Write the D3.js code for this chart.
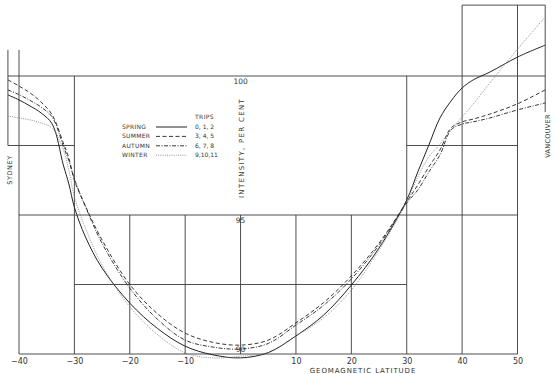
<!DOCTYPE html>
<html>
<head>
<meta charset="utf-8">
<script src="https://cdn.jsdelivr.net/npm/d3@7"></script>
<style>
  body { margin: 0; background: #fff; }
  text { font-family: "DejaVu Sans", sans-serif; fill: #333; }
</style>
</head>
<body>
<div id="chart"></div>
<script>
// geomagnetic latitude (degrees) where the curves were read
var lats = [-42, -40, -38, -36, -34, -32, -31, -30, -28, -25, -20, -15, -10, -5, 0, 5, 10, 15, 20, 25, 30, 32, 34, 36, 38, 40, 42, 45, 50, 55];

// intensity, per cent, one array per season
var spring = [99.32, 99.14, 98.92, 98.67, 98.27, 96.80, 96.12, 95.28, 94.21, 93.09, 91.83, 90.92, 90.28, 89.97, 89.86, 90.05, 90.65, 91.40, 92.48, 93.81, 95.54, 96.55, 97.52, 98.49, 99.10, 99.57, 99.86, 100.14, 100.68, 101.11];
var summer = [99.86, 99.64, 99.39, 99.06, 98.60, 97.59, 97.05, 96.25, 95.32, 94.10, 92.50, 91.45, 90.75, 90.42, 90.32, 90.50, 91.12, 91.85, 92.81, 93.99, 95.47, 96.08, 96.73, 97.34, 98.13, 98.35, 98.45, 98.63, 99.00, 99.50];
var autumn = [99.50, 99.33, 99.12, 98.88, 98.52, 97.48, 96.95, 96.30, 95.30, 93.98, 92.37, 91.25, 90.50, 90.25, 90.18, 90.38, 91.04, 91.75, 92.70, 93.92, 95.43, 95.90, 96.55, 97.16, 98.06, 98.27, 98.35, 98.49, 98.78, 99.03];
var winter = [98.56, 98.49, 98.42, 98.31, 98.13, 97.34, 96.62, 95.65, 94.53, 93.20, 91.70, 90.70, 90.04, 89.86, 89.92, 90.06, 90.65, 91.30, 92.30, 93.74, 95.47, 96.37, 97.09, 97.55, 98.06, 98.53, 98.99, 99.75, 100.97, 102.12];

var seasons = ["SPRING", "SUMMER", "AUTUMN", "WINTER"];
var trips = ["0, 1, 2", "3, 4, 5", "6, 7, 8", "9,10,11"];

var xTicks = [-40, -30, -20, -10, 10, 20, 30, 40, 50];
var yTicks = [100, 95, 90];

// frame rules in data units: [value, latFrom, latTo] and [lat, valueFrom, valueTo]
var hRules = [[102.55, 40, 55], [100, -42, 55], [97.5, -42, -30], [97.5, 30, 50], [95, -40, 50], [92.5, -30, 30], [90, -40, 50]];
var vRules = [[-42, 97.5, 100.94], [-40, 90, 100.94], [-30, 90, 100], [-20, 90, 95], [-10, 90, 95], [0, 90, 95], [10, 90, 95], [20, 90, 95], [30, 90, 100], [40, 90, 102.55], [50, 90, 102.55], [55, 98.7, 102.55]];

var width = 556, height = 374;

var svg = d3.select("#chart")
  .append("svg")
    .attr("width", width)
    .attr("height", height);

var x = d3.scaleLinear()
  .domain([-40, 50])
  .range([19, 517.5]);

var y = d3.scaleLinear()
  .domain([90, 100])
  .range([354, 76]);

// frame
svg.selectAll("hrule")
  .data(hRules)
  .enter()
  .append("line")
    .attr("x1", function(d) { return x(d[1]); })
    .attr("x2", function(d) { return x(d[2]); })
    .attr("y1", function(d) { return y(d[0]); })
    .attr("y2", function(d) { return y(d[0]); })
    .attr("stroke", "#3a3a3a")
    .attr("stroke-width", 0.9);

svg.selectAll("vrule")
  .data(vRules)
  .enter()
  .append("line")
    .attr("x1", function(d) { return x(d[0]); })
    .attr("x2", function(d) { return x(d[0]); })
    .attr("y1", function(d) { return y(d[1]); })
    .attr("y2", function(d) { return y(d[2]); })
    .attr("stroke", "#3a3a3a")
    .attr("stroke-width", 0.9);

// X axis labels
var xAxis = svg.append("g")
  .attr("transform", "translate(0," + y(90) + ")")
  .call(d3.axisBottom(x).tickValues(xTicks).tickSize(0).tickPadding(4));
xAxis.select(".domain").remove();
xAxis.selectAll("text")
  .style("font-size", "8px")
  .style("font-family", "DejaVu Sans, sans-serif")
  .attr("fill", "#333");

// Y labels sit on the 0 meridian
svg.selectAll("ylab")
  .data(yTicks)
  .enter()
  .append("text")
    .attr("x", x(0))
    .attr("y", function(d) { return y(d) + (d == 90 ? -2 : 8); })
    .attr("text-anchor", "middle")
    .style("font-size", "7.5px")
    .text(function(d) { return d; });

svg.append("text")
  .attr("transform", "translate(" + (x(0) + 3) + ",148)rotate(-90)")
  .attr("text-anchor", "middle")
  .style("font-size", "7px")
  .style("letter-spacing", "1.3px")
  .text("INTENSITY,   PER   CENT");

svg.append("text")
  .attr("x", 363)
  .attr("y", 373)
  .attr("text-anchor", "middle")
  .style("font-size", "7px")
  .style("letter-spacing", "0.9px")
  .text("GEOMAGNETIC   LATITUDE");

svg.append("text")
  .attr("transform", "translate(12,170)rotate(-90)")
  .attr("text-anchor", "middle")
  .style("font-size", "6.5px")
  .style("letter-spacing", "0.6px")
  .text("SYDNEY");

svg.append("text")
  .attr("transform", "translate(549.5,136)rotate(-90)")
  .attr("text-anchor", "middle")
  .style("font-size", "6.5px")
  .style("letter-spacing", "0.3px")
  .text("VANCOUVER");

// curves
var styles = [
  {dash: null, color: "#222", w: 1},
  {dash: "4,2.5", color: "#222", w: 0.9},
  {dash: "4,1.5,1,1.5", color: "#222", w: 0.9},
  {dash: "1,1.2", color: "#777", w: 0.8}
];
var seriesVals = [spring, summer, autumn, winter];

var line = d3.line()
  .x(function(d) { return x(d[0]); })
  .y(function(d) { return y(d[1]); })
  .curve(d3.curveCatmullRom.alpha(0.5));

seriesVals.forEach(function(vals, i) {
  svg.append("path")
    .datum(lats.map(function(l, j) { return [l, vals[j]]; }))
    .attr("d", line)
    .attr("fill", "none")
    .attr("stroke", styles[i].color)
    .attr("stroke-width", styles[i].w)
    .attr("stroke-dasharray", styles[i].dash);
});

// legend
var lg = svg.append("g").attr("transform", "translate(122,127)");
lg.append("text")
  .attr("x", 73)
  .attr("y", -8)
  .style("font-size", "6px")
  .style("letter-spacing", "0.4px")
  .text("TRIPS");
seasons.forEach(function(s, i) {
  var row = lg.append("g").attr("transform", "translate(0," + (i * 9.4) + ")");
  row.append("text")
    .attr("y", 2)
    .style("font-size", "6px")
    .style("letter-spacing", "0.3px")
    .text(s);
  row.append("line")
    .attr("x1", 34).attr("x2", 65)
    .attr("y1", 0).attr("y2", 0)
    .attr("stroke", styles[i].color)
    .attr("stroke-width", styles[i].w)
    .attr("stroke-dasharray", styles[i].dash);
  row.append("text")
    .attr("x", 73)
    .attr("y", 2)
    .style("font-size", "6px")
    .text(trips[i]);
});
</script>
</body>
</html>
